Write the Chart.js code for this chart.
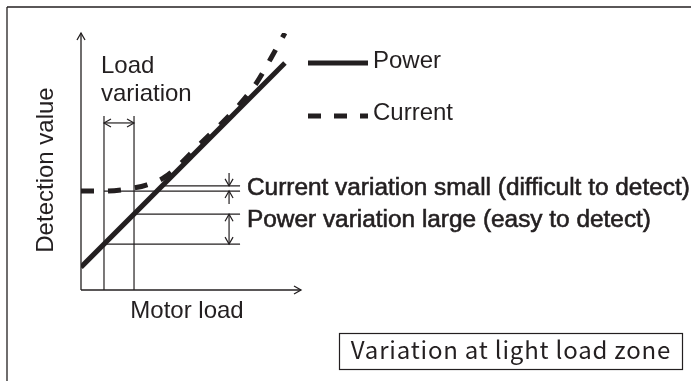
<!DOCTYPE html>
<html>
<head>
<meta charset="utf-8">
<script src="https://cdn.jsdelivr.net/npm/chart.js@4.4.0/dist/chart.umd.min.js"></script>
<style>
  body { margin: 0; background: #fff; }
  #wrap { width: 691px; height: 381px; }
</style>
</head>
<body>
<div id="wrap"><canvas id="myChart" width="691" height="381"></canvas></div>
<script>
// Motor load (x) vs detection value (y), both on a 0-100 scale
const powerLoad = [0, 92.7];
const powerValue = [8.9, 88.3];
const currentLoad = [0, 10.5, 24.1, 30, 38.2, 54.1, 72.3, 80, 86.4, 92.7];
const currentValue = [38.5, 38.5, 39.7, 40.9, 44.0, 56.8, 72.4, 80.9, 90.3, 100];

// light load zone and the variation bands read at its two edges
const loadBand = [10.45, 24.1];
const currentBand = [38.5, 40.5];
const powerBand = [17.85, 29.5];
const guideTop = 67.7;      // top of the two load lines
const loadArrowY = 65;      // "Load variation" arrow
const guideStart = 35.9;    // upper current line starts at the power line
const guideEnd = 72.3;      // right end of horizontal guides
const bandArrowX = 67.3;    // x of the band arrows
const arrowReach = 5;       // length of the small outside arrows

const INK = '#231f20';
const HELV = '"Liberation Sans", Arial, sans-serif';
const GOTHIC = '"Noto Sans CJK JP", "Noto Sans", sans-serif';

const toPoints = (xs, ys) => xs.map((x, i) => ({ x: x, y: ys[i] }));
const seg = (x0, y0, x1, y1) => [{ x: x0, y: y0 }, { x: x1, y: y1 }];

function guide(data) {
    return {
        data: data,
        borderColor: INK,
        borderWidth: 1.2,
        pointRadius: 0,
        tension: 0
    };
}

function arrowHead(ctx, x, y, dir) {
    const len = 7, half = 4;
    ctx.beginPath();
    if (dir === 'up') {
        ctx.moveTo(x - half, y + len); ctx.lineTo(x, y); ctx.lineTo(x + half, y + len);
    } else if (dir === 'down') {
        ctx.moveTo(x - half, y - len); ctx.lineTo(x, y); ctx.lineTo(x + half, y - len);
    } else if (dir === 'left') {
        ctx.moveTo(x + len, y - half); ctx.lineTo(x, y); ctx.lineTo(x + len, y + half);
    } else {
        ctx.moveTo(x - len, y - half); ctx.lineTo(x, y); ctx.lineTo(x - len, y + half);
    }
    ctx.stroke();
}

function line(ctx, x0, y0, x1, y1) {
    ctx.beginPath();
    ctx.moveTo(x0, y0);
    ctx.lineTo(x1, y1);
    ctx.stroke();
}

// semi-bold look: fill plus a thin outline
function heavyText(ctx, text, x, y) {
    ctx.fillText(text, x, y);
    ctx.strokeText(text, x, y);
}

// frame, axes, arrows, legend and labels
const diagram = {
    id: 'diagram',
    beforeDatasetsDraw(chart) {
        const ctx = chart.ctx;
        const a = chart.chartArea;
        ctx.save();
        ctx.strokeStyle = INK;
        ctx.lineWidth = 1.3;
        // outer frame (top and left edges)
        line(ctx, 7, 7, 691, 7);
        line(ctx, 7, 7, 7, 381);
        // axes
        line(ctx, a.left, a.bottom, a.left, a.top);
        line(ctx, a.left, a.bottom, a.right, a.bottom);
        arrowHead(ctx, a.left, a.top, 'up');
        arrowHead(ctx, a.right, a.bottom, 'right');
        ctx.restore();
    },
    afterDatasetsDraw(chart) {
        const ctx = chart.ctx;
        const xs = chart.scales.x, ys = chart.scales.y;
        ctx.save();
        ctx.strokeStyle = INK;
        ctx.fillStyle = INK;
        ctx.lineWidth = 1.2;

        // load variation arrow
        const lx0 = xs.getPixelForValue(loadBand[0]);
        const lx1 = xs.getPixelForValue(loadBand[1]);
        const ly = ys.getPixelForValue(loadArrowY);
        line(ctx, lx0, ly, lx1, ly);
        arrowHead(ctx, lx0, ly, 'left');
        arrowHead(ctx, lx1, ly, 'right');

        // current variation: arrows pointing in from outside
        const bx = xs.getPixelForValue(bandArrowX);
        const cLow = ys.getPixelForValue(currentBand[0]);
        const cHigh = ys.getPixelForValue(currentBand[1]);
        line(ctx, bx, ys.getPixelForValue(currentBand[1] + arrowReach), bx, cHigh);
        arrowHead(ctx, bx, cHigh, 'down');
        line(ctx, bx, ys.getPixelForValue(currentBand[0] - arrowReach), bx, cLow);
        arrowHead(ctx, bx, cLow, 'up');

        // power variation: double arrow
        const pLow = ys.getPixelForValue(powerBand[0]);
        const pHigh = ys.getPixelForValue(powerBand[1]);
        line(ctx, bx, pHigh, bx, pLow);
        arrowHead(ctx, bx, pHigh, 'up');
        arrowHead(ctx, bx, pLow, 'down');

        // legend
        ctx.lineWidth = 5;
        line(ctx, 308, 63, 368, 63);
        ctx.setLineDash([13, 13]);
        line(ctx, 308, 116, 368, 116);
        ctx.setLineDash([]);

        ctx.textBaseline = 'alphabetic';
        ctx.textAlign = 'left';
        ctx.font = '24px ' + HELV;
        ctx.fillText('Power', 373, 68);
        ctx.fillText('Current', 373, 120);
        ctx.fillText('Load', 101, 73);
        ctx.fillText('variation', 101, 101);
        ctx.textAlign = 'center';
        ctx.fillText('Motor load', 187, 318);
        ctx.save();
        ctx.translate(53, 170);
        ctx.rotate(-Math.PI / 2);
        ctx.fillText('Detection value', 0, 0);
        ctx.restore();

        ctx.textAlign = 'left';
        ctx.font = '24.4px ' + HELV;
        ctx.lineWidth = 0.6;
        heavyText(ctx, 'Current variation small (difficult to detect)', 247, 195);
        heavyText(ctx, 'Power variation large (easy to detect)', 247, 227);

        // zone caption box
        ctx.lineWidth = 1.2;
        ctx.strokeRect(339.5, 333.5, 343, 36);
        ctx.font = '24px ' + GOTHIC;
        ctx.letterSpacing = '0.8px';
        ctx.textAlign = 'center';
        ctx.fillText('Variation at light load zone', 511, 359);
        ctx.restore();
    }
};

const ctx = document.getElementById('myChart').getContext('2d');
new Chart(ctx, {
    type: 'line',
    data: {
        datasets: [
            {
                label: 'Power',
                data: toPoints(powerLoad, powerValue),
                borderColor: INK,
                borderWidth: 5,
                pointRadius: 0,
                tension: 0
            },
            {
                label: 'Current',
                data: toPoints(currentLoad, currentValue),
                borderColor: INK,
                borderWidth: 5,
                borderDash: [13, 14],
                pointRadius: 0,
                cubicInterpolationMode: 'monotone'
            },
            guide(seg(loadBand[0], 0, loadBand[0], guideTop)),
            guide(seg(loadBand[1], 0, loadBand[1], guideTop)),
            guide(seg(loadBand[0], currentBand[0], guideEnd, currentBand[0])),
            guide(seg(guideStart, currentBand[1], guideEnd, currentBand[1])),
            guide(seg(loadBand[1], powerBand[1], guideEnd, powerBand[1])),
            guide(seg(loadBand[0], powerBand[0], guideEnd, powerBand[0]))
        ]
    },
    options: {
        responsive: false,
        animation: false,
        events: [],
        layout: { padding: { left: 81, right: 390, top: 33, bottom: 91 } },
        plugins: {
            legend: { display: false },
            tooltip: { enabled: false }
        },
        scales: {
            x: { type: 'linear', min: 0, max: 100, display: false },
            y: { type: 'linear', min: 0, max: 100, display: false }
        }
    },
    plugins: [diagram]
});
</script>
</body>
</html>
